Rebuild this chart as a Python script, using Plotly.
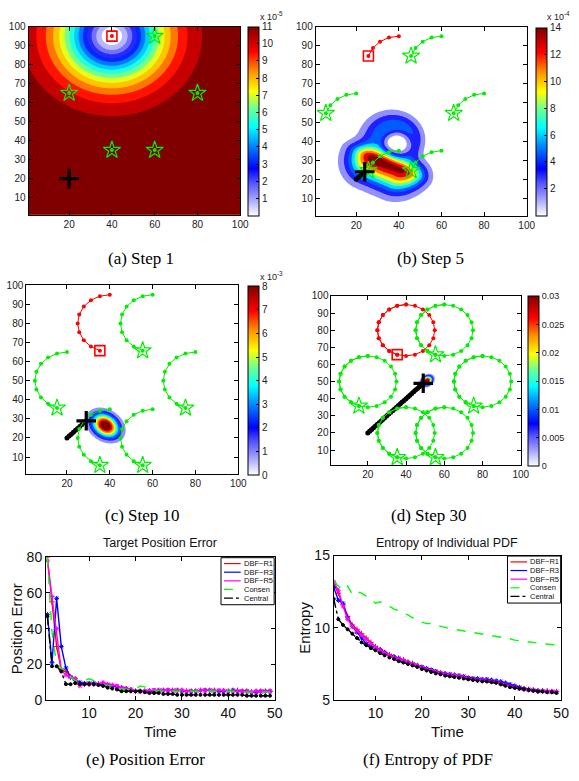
import numpy as np
import plotly.graph_objects as go

W, H = 579, 781

# ---------------- line chart data ----------------
time_steps = list(range(1, 50))
pos_err_r1 = [80, 55, 30, 17, 16, 13, 12, 9, 9, 9,
              9, 9, 9, 8.5, 8, 7.5, 7, 6.5, 5.5, 5,
              5, 5, 5, 5, 5.5, 5.5, 5.5, 5.5, 5.5, 5.5,
              5, 5, 5, 5.5, 5.5, 5.5, 5.5, 5, 5, 5,
              5.5, 5.5, 5, 5, 4.5, 5, 5, 5, 5]
pos_err_r3 = [48, 21, 57, 30, 18, 13, 11, 10, 9.5, 9.5,
              9.5, 9, 9, 8.5, 8, 7.5, 7, 6.5, 6, 5,
              5, 5, 5, 5.5, 5.5, 5.5, 5.5, 5.5, 5.5, 5,
              5, 5, 5, 5.5, 5.5, 5.5, 5, 5, 5, 5,
              5.5, 5, 5, 5, 4.5, 4.5, 5, 5, 5]
pos_err_r5 = [78, 58, 40, 17, 14, 13, 12, 8, 9, 9,
              9, 9, 10, 9, 8.5, 8, 7, 6.5, 6, 5,
              5, 5, 5.5, 5.5, 5.5, 5.5, 5.5, 5.5, 5.5, 5.5,
              5, 5, 5, 5.5, 5.5, 5.5, 5.5, 5.5, 5.5, 5,
              5, 5, 5, 5, 4.5, 5, 5, 5, 5]
pos_err_con = [80, 38, 20, 18, 17, 13, 11, 11, 11, 12,
               11, 10, 9, 8, 8, 7, 6.5, 6, 6, 6,
               8, 7.5, 6, 5.5, 5, 5, 5, 5, 5, 5,
               5, 5, 5, 5, 5, 5, 5, 5, 5, 5,
               5, 4.5, 4.5, 4.5, 4.5, 4.5, 4.5, 4.5, 4.5]
pos_err_cen = [47, 19, 19, 16, 9, 9, 9.5, 9, 9, 9,
               9, 8.5, 8, 7, 6.5, 6, 5, 5, 5, 5,
               5, 4.5, 4, 4, 4, 3.5, 3.5, 3.5, 3, 3,
               3, 3, 3, 3, 3, 3, 3, 3, 3, 3,
               3, 3, 3, 2.5, 2.5, 2.5, 2.5, 2.5, 2.5]

ent_r1 = [13.1, 12.4, 11.6, 10.8, 10.2, 9.9, 9.6, 9.3, 9.0, 8.7,
          8.5, 8.3, 8.15, 8.0, 7.9, 7.8, 7.65, 7.55, 7.4, 7.25,
          7.15, 7.05, 6.95, 6.85, 6.8, 6.75, 6.7, 6.65, 6.6, 6.5,
          6.45, 6.4, 6.4, 6.35, 6.3, 6.25, 6.15, 6.05, 6.0, 5.9,
          5.85, 5.8, 5.75, 5.7, 5.65, 5.65, 5.65, 5.6, 5.6]
ent_r3 = [12.8, 11.9, 11.7, 10.7, 10.1, 9.7, 9.3, 8.9, 8.75, 8.65,
          8.5, 8.3, 8.1, 8.0, 7.9, 7.75, 7.6, 7.5, 7.4, 7.3,
          7.2, 7.1, 7.0, 6.9, 6.85, 6.8, 6.75, 6.7, 6.65, 6.55,
          6.5, 6.5, 6.45, 6.45, 6.4, 6.35, 6.3, 6.2, 6.1, 6.0,
          5.9, 5.8, 5.75, 5.7, 5.65, 5.65, 5.6, 5.6, 5.6]
ent_r5 = [13.2, 12.6, 11.5, 10.6, 10.1, 9.8, 9.5, 9.2, 8.9, 8.65,
          8.45, 8.25, 8.1, 7.95, 7.85, 7.75, 7.6, 7.5, 7.4, 7.25,
          7.15, 7.05, 6.95, 6.9, 6.8, 6.75, 6.7, 6.65, 6.6, 6.5,
          6.45, 6.4, 6.4, 6.35, 6.3, 6.25, 6.15, 6.05, 5.95, 5.9,
          5.8, 5.75, 5.7, 5.7, 5.6, 5.65, 5.6, 5.6, 5.6]
ent_con = [13.2, 12.9, 12.6, 12.9, 12.3, 12.5, 12.4, 12.2, 12.0, 11.7,
           11.8, 11.7, 11.5, 11.3, 11.2, 11.0, 10.9, 10.7, 10.6, 10.4,
           10.3, 10.3, 10.2, 10.1, 10.0, 9.95, 9.9, 9.85, 9.8, 9.75,
           9.7, 9.65, 9.6, 9.55, 9.5, 9.45, 9.35, 9.3, 9.25, 9.15,
           9.1, 9.05, 9.0, 8.95, 8.95, 8.9, 8.9, 8.85, 8.8]
ent_cen = [12.0, 10.6, 10.2, 9.9, 9.6, 9.3, 9.0, 8.8, 8.6, 8.45,
           8.25, 8.1, 7.95, 7.85, 7.7, 7.6, 7.5, 7.4, 7.3, 7.15,
           7.05, 6.95, 6.85, 6.8, 6.7, 6.65, 6.6, 6.55, 6.5, 6.45,
           6.4, 6.35, 6.3, 6.3, 6.25, 6.2, 6.1, 6.0, 5.9, 5.85,
           5.8, 5.75, 5.7, 5.65, 5.6, 5.6, 5.55, 5.55, 5.5]

series_names = ["DBF\u2212R1", "DBF\u2212R3", "DBF\u2212R5", "Consen", "Central"]
series_colors = ["#ff0000", "#0000ff", "#ff00ff", "#00ff00", "#000000"]
series_dash = ["solid", "solid", "solid", "dash", "dashdot"]
series_mode = ["lines+markers", "lines+markers", "lines+markers", "lines", "lines+markers"]
series_symbol = ["cross-thin", "asterisk", "asterisk", "circle", "circle"]

# ---------------- sensor network geometry ----------------
sensor_cx = [40, 60, 20, 80, 40, 60]      # orbit centres; first = leader (red)
sensor_cy = [80, 80, 50, 50, 20, 20]
orbit_radius = 15
orbit_start_deg = 90
orbit_step_deg = 18
target_start = [20, 20]
target_step = [1, 1]
panel_steps = [1, 5, 10, 30]

# ---------------- belief (pdf) field descriptions ----------------
grid = np.linspace(1, 100, 199)
# (a) step 1: ring-shaped likelihood around the leader sensor
a_center = [40, 95]
a_vmax = 11e-5
a_scale = 23.3
a_power = 1.68
# (b) step 5: ridge (core) + ring around the hole + lower-right lobe
b_vmax = 14e-4
b_seg_x = [27, 39.5]
b_seg_y = [30.5, 24.6]
b_core_amp = 0.8
b_core_sig_out = 8.2
b_core_sig_in = 4.0
b_core_sig_end = 7.5
b_ring_c = [38.8, 38.8]
b_ring_r = 9
b_ring_w_in = 3.0
b_ring_amp = [0.28, 0.09, 110]      # mean, harmonic, phase(deg)
b_ring_w_out = [4.6, 1.5, 150]
b_lobe = [48, 24, 0.25, 5]          # cx, cy, amp, sigma
# (c) step 10
c_cx, c_cy, c_amp, c_su, c_sv, c_ang = [38], [26.5], [1.05], [4.9], [3.7], [-45]
c_vmax = 8e-3
# (d) step 30
d_cx, d_cy, d_amp, d_su, d_sv, d_ang = [51], [50.5], [1.05], [2.1], [1.6], [45]
d_vmax = 0.03

jet_white = [[0.0, "#ffffff"], [0.1, "#9a9aff"], [0.18, "#5050ff"], [0.25, "#0000ff"],
             [0.38, "#0090ff"], [0.47, "#00ffff"], [0.57, "#70ff90"], [0.66, "#ffff00"],
             [0.77, "#ff8c00"], [0.87, "#ff0000"], [1.0, "#800000"]]

X, Y = np.meshgrid(grid, grid)


def blob_field(cx, cy, amp, su, sv, ang):
    Z = np.zeros_like(X)
    for k in range(len(cx)):
        t = np.deg2rad(ang[k])
        dx, dy = X - cx[k], Y - cy[k]
        u = dx * np.cos(t) + dy * np.sin(t)
        v = -dx * np.sin(t) + dy * np.cos(t)
        Z += amp[k] * np.exp(-0.5 * ((u / su[k]) ** 2 + (v / sv[k]) ** 2))
    return Z


def field_b_fn():
    sx0, sy0 = b_seg_x[0], b_seg_y[0]
    L = np.hypot(b_seg_x[1] - sx0, b_seg_y[1] - sy0)
    ux, uy = (b_seg_x[1] - sx0) / L, (b_seg_y[1] - sy0) / L
    dx, dy = X - sx0, Y - sy0
    t = dx * ux + dy * uy
    v = -dx * uy + dy * ux
    du = np.where(t < 0, -t, np.where(t > L, t - L, 0.0))
    sv = np.where(v > 0, b_core_sig_in, b_core_sig_out)
    core = b_core_amp * np.exp(-0.5 * ((du / b_core_sig_end) ** 2 + (v / sv) ** 2))
    rx, ry = X - b_ring_c[0], Y - b_ring_c[1]
    r = np.hypot(rx, ry)
    th = np.arctan2(ry, rx)
    A = b_ring_amp[0] + b_ring_amp[1] * np.cos(th - np.deg2rad(b_ring_amp[2]))
    wout = b_ring_w_out[0] + b_ring_w_out[1] * np.cos(th - np.deg2rad(b_ring_w_out[2]))
    w = np.where(r < b_ring_r, b_ring_w_in, wout)
    ring = A * np.exp(-0.5 * ((r - b_ring_r) / w) ** 2)
    lobe = b_lobe[2] * np.exp(-0.5 * ((X - b_lobe[0]) ** 2 + (Y - b_lobe[1]) ** 2) / b_lobe[3] ** 2)
    return b_vmax * (core + ring + lobe)


dist_a = np.hypot(X - a_center[0], Y - a_center[1])
field_a = a_vmax * (1 - np.exp(-(dist_a / a_scale) ** a_power))
field_b = field_b_fn()
field_c = c_vmax * blob_field(c_cx, c_cy, c_amp, c_su, c_sv, c_ang)
field_d = d_vmax * blob_field(d_cx, d_cy, d_amp, d_su, d_sv, d_ang)

fields = [field_a, field_b, field_c, field_d]
vmaxes = [a_vmax, b_vmax, c_vmax, d_vmax]
nbands = [15, 10, 10, 10]
cbar_ticks = [
    ([i * 1e-5 for i in range(1, 12)], [str(i) for i in range(1, 12)]),
    ([i * 1e-4 for i in range(2, 15, 2)], [str(i) for i in range(2, 15, 2)]),
    ([i * 1e-3 for i in range(0, 9)], [str(i) for i in range(0, 9)]),
    ([0, 0.005, 0.01, 0.015, 0.02, 0.025, 0.03], ["0", "0.005", "0.01", "0.015", "0.02", "0.025", "0.03"]),
]
cbar_font = [10, 10, 10, 9]
exp_labels = ["x 10<sup>-5</sup>", "x 10<sup>-4</sup>", "x 10<sup>-3</sup>", None]
captions = ["(a) Step 1", "(b) Step 5", "(c) Step 10", "(d) Step 30", "(e) Position Error", "(f) Entropy of PDF"]

# ---------------- pixel layout ----------------
map_boxes = [(29, 244, 19, 211), (320.7, 535, 19, 212), (26.7, 242, 283, 476), (336.7, 529, 294, 467)]
cbar_boxes = [(252, 11, 19, 212), (544, 11, 20, 212), (252, 11, 284, 477), (536.5, 10.5, 294, 468)]
exp_pos = [(262, 8), (554, 8), (262, 274), None]
line_boxes = [(46.7, 279, 560.7, 706.7), (339, 570, 559, 706.7)]
caption_pos = [(143, 256), (437, 256), (145, 518), (436, 518), (148, 767), (435, 767)]


def xd(a, b):
    return [a / W, b / W]


def yd(a, b):
    return [1 - b / H, 1 - a / H]


fig = go.Figure()
layout_axes = {}
annotations = []
shapes = []

map_axis = dict(range=[1, 100], showline=True, linecolor="black", linewidth=1, mirror="ticks",
                ticks="inside", ticklen=4, tickcolor="black", showgrid=False, zeroline=False,
                tickfont=dict(size=10, color="#222"))

for p in range(4):
    xa = "x" if p == 0 else f"x{p + 1}"
    ya = "y" if p == 0 else f"y{p + 1}"
    x0, x1, y0, y1 = map_boxes[p]
    layout_axes["xaxis" if p == 0 else f"xaxis{p + 1}"] = dict(
        map_axis, domain=xd(x0, x1), anchor=ya, tickvals=[20, 40, 60, 80, 100])
    layout_axes["yaxis" if p == 0 else f"yaxis{p + 1}"] = dict(
        map_axis, domain=yd(y0, y1), anchor=xa, tickvals=list(range(10, 101, 10)))

    z = fields[p]
    vmax = vmaxes[p]
    cs = vmax / nbands[p]
    cbx, cbt, cby0, cby1 = cbar_boxes[p]
    tv, tt = cbar_ticks[p]
    fig.add_trace(go.Heatmap(
        x=grid[::6], y=grid[::6], z=z[::6, ::6], xaxis=xa, yaxis=ya,
        colorscale=jet_white, zmin=0, zmax=vmax, hoverinfo="skip",
        colorbar=dict(x=cbx / W, xanchor="left", xpad=0, ypad=0, thickness=cbt,
                      len=(cby1 - cby0) / H, y=1 - (cby0 + cby1) / 2 / H, yanchor="middle",
                      outlinecolor="black", outlinewidth=1, tickvals=tv, ticktext=tt,
                      ticks="inside", ticklen=3, tickcolor="black",
                      tickfont=dict(size=cbar_font[p], color="#222"))))
    fig.add_trace(go.Contour(
        x=grid, y=grid, z=z, xaxis=xa, yaxis=ya, colorscale=jet_white, showscale=False,
        autocontour=False,
        contours=dict(start=cs, end=vmax - 0.5 * cs, size=cs, coloring="fill", showlines=False),
        line=dict(width=0), hoverinfo="skip"))

    n = panel_steps[p]
    k = np.arange(n)
    tx = target_start[0] + target_step[0] * k
    ty = target_start[1] + target_step[1] * k
    if n > 1:
        fig.add_trace(go.Scatter(x=tx, y=ty, xaxis=xa, yaxis=ya, mode="lines+markers",
                                 line=dict(color="black", width=3.5),
                                 marker=dict(color="black", size=5), hoverinfo="skip"))
    for i in range(len(sensor_cx)):
        ang = np.deg2rad(orbit_start_deg + orbit_step_deg * k)
        sx = sensor_cx[i] + orbit_radius * np.cos(ang)
        sy = sensor_cy[i] + orbit_radius * np.sin(ang)
        col = "#ff0000" if i == 0 else "#00ee00"
        fig.add_trace(go.Scatter(x=sx, y=sy, xaxis=xa, yaxis=ya, mode="lines+markers",
                                 line=dict(color=col, width=1), marker=dict(color=col, size=4),
                                 hoverinfo="skip"))
        fig.add_trace(go.Scatter(
            x=[sx[-1]], y=[sy[-1]], xaxis=xa, yaxis=ya, mode="markers", hoverinfo="skip",
            marker=dict(symbol="square-open" if i == 0 else "star-open",
                        size=10 if i == 0 else 13, color=col,
                        line=dict(width=1.6 if i == 0 else 1.2, color=col))))
    fig.add_trace(go.Scatter(x=[tx[-1]], y=[ty[-1]], xaxis=xa, yaxis=ya, mode="markers",
                             marker=dict(symbol="cross-thin", size=14, color="black",
                                         line=dict(width=3.2, color="black")), hoverinfo="skip"))
    if exp_labels[p]:
        ex, ey = exp_pos[p]
        annotations.append(dict(text=exp_labels[p], x=ex / W, y=1 - ey / H, xref="paper", yref="paper",
                                xanchor="left", yanchor="middle", showarrow=False,
                                font=dict(size=9, color="#222")))

# ---------------- line charts ----------------
line_sets = [
    [pos_err_r1, pos_err_r3, pos_err_r5, pos_err_con, pos_err_cen],
    [ent_r1, ent_r3, ent_r5, ent_con, ent_cen],
]
line_titles = ["Target Position Error", "Entropy of Individual PDF"]
line_ylabels = ["Position Error", "Entropy"]
line_yranges = [[0, 80], [5, 15]]
line_yticks = [[0, 20, 40, 60, 80], [5, 10, 15]]
line_xranges = [[0.7, 50], [1, 50]]

for j in range(2):
    idx = 5 + j
    xa, ya = f"x{idx}", f"y{idx}"
    x0, x1, y0, y1 = line_boxes[j]
    common = dict(showline=True, linecolor="black", linewidth=1, mirror="ticks", ticks="inside",
                  ticklen=4, tickcolor="black", showgrid=False, zeroline=False,
                  tickfont=dict(size=14, color="#111"))
    layout_axes[f"xaxis{idx}"] = dict(common, domain=xd(x0, x1), anchor=ya, range=line_xranges[j],
                                      tickvals=[10, 20, 30, 40, 50],
                                      title=dict(text="Time", font=dict(size=15, color="#111"), standoff=6))
    layout_axes[f"yaxis{idx}"] = dict(common, domain=yd(y0, y1), anchor=xa, range=line_yranges[j],
                                      tickvals=line_yticks[j],
                                      title=dict(text=line_ylabels[j], font=dict(size=15, color="#111"),
                                                 standoff=0))
    for s in range(5):
        fig.add_trace(go.Scatter(
            x=time_steps, y=line_sets[j][s], xaxis=xa, yaxis=ya, mode=series_mode[s],
            name=series_names[s],
            line=dict(color=series_colors[s], width=1.4, dash=series_dash[s]),
            marker=dict(symbol=series_symbol[s], size=3 if s == 4 else 4, color=series_colors[s],
                        line=dict(width=1, color=series_colors[s])),
            hoverinfo="skip"))
    annotations.append(dict(text=line_titles[j], x=(x0 + x1) / 2 / W, y=1 - 546 / H, xref="paper",
                            yref="paper", xanchor="center", yanchor="middle", showarrow=False,
                            font=dict(size=12.5, color="#111")))
    lx1 = x1 - 0.5
    lx0 = lx1 - 54
    ly0, ly1 = y0 + 0.5, y0 + 48.5
    shapes.append(dict(type="rect", xref="paper", yref="paper", x0=lx0 / W, x1=lx1 / W,
                       y0=1 - ly1 / H, y1=1 - ly0 / H, line=dict(color="black", width=1),
                       fillcolor="white", layer="above"))
    for s in range(5):
        ey = ly0 + 6 + s * 8.8
        shapes.append(dict(type="line", xref="paper", yref="paper", x0=(lx0 + 3) / W, x1=(lx0 + 20) / W,
                           y0=1 - ey / H, y1=1 - ey / H,
                           line=dict(color=series_colors[s], width=1.2, dash=series_dash[s]),
                           layer="above"))
        annotations.append(dict(text=series_names[s], x=(lx0 + 21) / W, y=1 - ey / H, xref="paper",
                                yref="paper", xanchor="left", yanchor="middle", showarrow=False,
                                font=dict(size=7.5, color="#111")))

for c in range(6):
    cx, cy = caption_pos[c]
    annotations.append(dict(text=captions[c], x=cx / W, y=1 - cy / H, xref="paper", yref="paper",
                            xanchor="center", yanchor="middle", showarrow=False,
                            font=dict(size=17, family="Liberation Serif", color="black")))

fig.update_layout(width=W, height=H, margin=dict(l=0, r=0, t=0, b=0), showlegend=False,
                  paper_bgcolor="white", plot_bgcolor="white",
                  font=dict(family="Liberation Sans", color="#111"),
                  annotations=annotations, shapes=shapes, **layout_axes)
fig.write_html("out.html", config={"displayModeBar": False},
               post_script="document.body.style.margin='0';document.body.style.padding='0';"
                           "document.documentElement.style.overflow='hidden';")
